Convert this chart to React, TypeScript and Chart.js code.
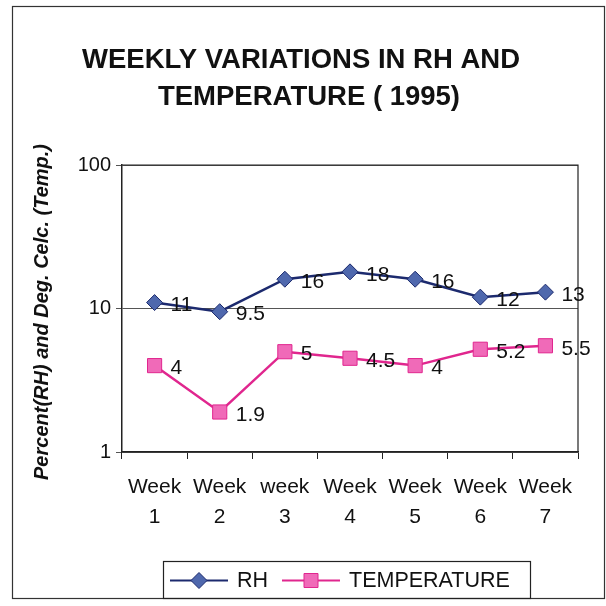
import React, { useEffect, useRef } from "react";
import { Chart, registerables } from "chart.js";

Chart.register(...registerables);

const weekLabels: string[][] = [
  ["Week", "1"],
  ["Week", "2"],
  ["week", "3"],
  ["Week", "4"],
  ["Week", "5"],
  ["Week", "6"],
  ["Week", "7"],
];
const rhValues = [11, 9.5, 16, 18, 16, 12, 13];
const tempValues = [4, 1.9, 5, 4.5, 4, 5.2, 5.5];
const rhLabels = ["11", "9.5", "16", "18", "16", "12", "13"];
const tempLabels = ["4", "1.9", "5", "4.5", "4", "5.2", "5.5"];
const yTickValues = [1, 10, 100];
const titleLines = ["WEEKLY VARIATIONS IN RH AND", "TEMPERATURE ( 1995)"];
const yTitle = "Percent(RH) and Deg. Celc. (Temp.)";
const seriesNames = ["RH", "TEMPERATURE"];

const FONT = "'Liberation Sans', Arial, sans-serif";
const RH_LINE = "#1c2a6e";
const RH_FILL = "#4f68ad";
const T_LINE = "#e0268e";
const T_FILL = "#f06ab8";

const decorPlugin = {
  id: "decor",
  beforeDraw(chart: any) {
    const ctx = chart.ctx;
    ctx.save();
    ctx.fillStyle = "#ffffff";
    ctx.fillRect(0, 0, chart.width, chart.height);
    // outer frame
    ctx.strokeStyle = "#333";
    ctx.lineWidth = 1.2;
    ctx.strokeRect(12.5, 6.5, 592, 592);
    // title
    ctx.fillStyle = "#111";
    ctx.font = `bold 27.5px ${FONT}`;
    ctx.textAlign = "center";
    ctx.textBaseline = "middle";
    ctx.fillText(titleLines[0], 301, 60);
    ctx.fillText(titleLines[1], 309, 97);
    // y title
    ctx.translate(42, 312);
    ctx.rotate(-Math.PI / 2);
    ctx.font = `italic bold 20px ${FONT}`;
    ctx.fillText(yTitle, 0, 0);
    ctx.restore();
  },
  afterDatasetsDraw(chart: any) {
    const ctx = chart.ctx;
    const area = chart.chartArea;
    ctx.save();
    // plot frame (top and right)
    ctx.strokeStyle = "#222";
    ctx.lineWidth = 1.2;
    ctx.beginPath();
    ctx.moveTo(area.left, area.top);
    ctx.lineTo(area.right, area.top);
    ctx.lineTo(area.right, area.bottom);
    ctx.stroke();
    // data labels
    ctx.fillStyle = "#111";
    ctx.font = `21px ${FONT}`;
    ctx.textAlign = "left";
    ctx.textBaseline = "middle";
    const labelSets = [rhLabels, tempLabels];
    chart.data.datasets.forEach((_: any, di: number) => {
      const meta = chart.getDatasetMeta(di);
      meta.data.forEach((pt: any, i: number) => {
        ctx.fillText(labelSets[di][i], pt.x + 16, pt.y + 3);
      });
    });
    // legend
    const lx = 163, ly = 561, lw = 367, lh = 37;
    ctx.strokeStyle = "#222";
    ctx.lineWidth = 1.2;
    ctx.strokeRect(lx + 0.5, ly + 0.5, lw, lh);
    const cy = ly + lh / 2 + 1;
    const drawItem = (x0: number, line: string, fill: string, style: string, text: string) => {
      ctx.strokeStyle = line;
      ctx.lineWidth = 2;
      ctx.beginPath();
      ctx.moveTo(x0, cy);
      ctx.lineTo(x0 + 58, cy);
      ctx.stroke();
      ctx.fillStyle = fill;
      ctx.strokeStyle = line;
      ctx.lineWidth = 1;
      const mx = x0 + 29;
      ctx.beginPath();
      if (style === "diamond") {
        ctx.moveTo(mx, cy - 8);
        ctx.lineTo(mx + 8, cy);
        ctx.lineTo(mx, cy + 8);
        ctx.lineTo(mx - 8, cy);
        ctx.closePath();
      } else {
        ctx.rect(mx - 7, cy - 7, 14, 14);
      }
      ctx.fill();
      ctx.stroke();
      ctx.fillStyle = "#111";
      ctx.font = `21.5px ${FONT}`;
      ctx.textAlign = "left";
      ctx.textBaseline = "middle";
      ctx.fillText(text, x0 + 67, cy + 1);
    };
    drawItem(170, RH_LINE, RH_FILL, "diamond", seriesNames[0]);
    drawItem(282, T_LINE, T_FILL, "square", seriesNames[1]);
    ctx.restore();
  },
};

export default function App() {
  const ref = useRef<HTMLCanvasElement>(null);
  useEffect(() => {
    if (!ref.current) return;
    const chart = new Chart(ref.current, {
      type: "line",
      data: {
        labels: weekLabels,
        datasets: [
          {
            label: seriesNames[0],
            data: rhValues,
            borderColor: RH_LINE,
            backgroundColor: RH_FILL,
            pointBackgroundColor: RH_FILL,
            pointBorderColor: RH_LINE,
            pointBorderWidth: 1,
            pointStyle: "rectRot",
            pointRadius: 8,
            borderWidth: 2.5,
          },
          {
            label: seriesNames[1],
            data: tempValues,
            borderColor: T_LINE,
            backgroundColor: T_FILL,
            pointBackgroundColor: T_FILL,
            pointBorderColor: T_LINE,
            pointBorderWidth: 1,
            pointStyle: "rect",
            pointRadius: 10,
            borderWidth: 2.5,
          },
        ],
      },
      options: {
        responsive: false,
        animation: false,
        layout: { padding: { top: 165, left: 12, right: 28, bottom: 0 } },
        plugins: {
          legend: { display: false },
          title: { display: false },
          tooltip: { enabled: false },
        },
        scales: {
          x: {
            type: "category",
            offset: true,
            grid: {
              offset: true,
              drawOnChartArea: false,
              drawTicks: true,
              tickLength: 7,
              color: "#222",
            },
            border: { color: "#222", width: 1.5 },
            ticks: {
              color: "#111",
              font: { family: FONT, size: 21, lineHeight: 1.45 },
              maxRotation: 0,
              autoSkip: false,
              padding: 13,
            },
            afterFit: (s: any) => {
              s.height = 154;
            },
          },
          y: {
            type: "logarithmic",
            min: 1,
            max: 100,
            afterBuildTicks: (s: any) => {
              s.ticks = yTickValues.map((v) => ({ value: v, major: true }));
            },
            grid: {
              color: "#555",
              lineWidth: 1,
              tickLength: 6,
            },
            border: { color: "#222", width: 1.5 },
            ticks: {
              color: "#111",
              font: { family: FONT, size: 20 },
              padding: 5,
              callback: (v: any) => String(v),
            },
            afterFit: (s: any) => {
              s.width = 110;
            },
          },
        },
      },
      plugins: [decorPlugin],
    });
    return () => chart.destroy();
  }, []);
  return (
    <div style={{ position: "absolute", left: 0, top: 0, width: 606, height: 606 }}>
      <canvas ref={ref} width={606} height={606} style={{ display: "block" }} />
    </div>
  );
}
